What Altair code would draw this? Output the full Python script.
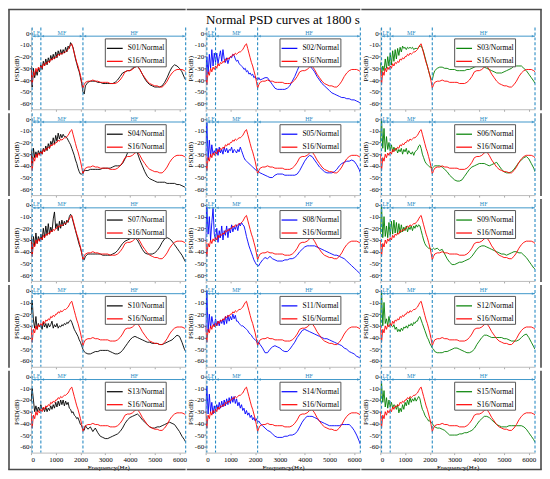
import altair as alt
import pandas as pd

FONT = "Liberation Serif"
TITLE = "Normal PSD curves at 1800 s"

# frequency grid (Hz): 50 Hz steps up to 2200, then 100 Hz steps to the end
FREQ = list(range(0, 2201, 50)) + list(range(2300, 6201, 100)) + [6250]

X_TICKS = [0, 1000, 2000, 3000, 4000, 5000, 6000]
Y_TICKS = [0, -10, -20, -30, -40, -50, -60]

BAND_EDGES = [50, 400, 2100, 6250]
BAND_NAMES = ["LF", "MF", "HF"]

# reference sensor, drawn in every panel
S16 = [-30, -44, -33, -36, -30, -33, -29, -31, -28, -30, -26, -28, -25, -26, -24, -25, -22, -23, -21, -22,
       -20, -20, -18, -19, -17, -18, -17, -16, -16, -15, -14, -12, -10, -9, -13, -17, -21, -25, -28, -32,
       -36, -41, -47, -44, -42,
       -41, -41, -40, -41, -41, -42, -42, -42, -42, -43, -43, -43, -42, -40, -37, -33, -32, -32, -31, -29,
       -28, -31, -35, -38, -41, -43, -44, -45, -45, -46, -46, -44, -41, -37, -34, -32, -31, -31, -31, -32, -33]

S01 = [-28, -46, -30, -38, -32, -36, -30, -33, -27, -31, -24, -28, -22, -27, -21, -25, -19, -23, -18, -22,
       -16, -21, -15, -19, -14, -18, -14, -17, -12, -16, -11, -13, -8, -10, -12, -17, -22, -26, -30, -33,
       -38, -43, -50, -52, -45,
       -42, -41, -41, -41, -42, -42, -43, -43, -43, -43, -43, -42, -40, -37, -34, -33, -32, -32, -30, -29,
       -28, -31, -35, -39, -42, -44, -45, -46, -46, -46, -45, -42, -38, -33, -29, -27, -28, -30, -33, -38, -40]

S02 = [-40, -20, -35, -18, -30, -14, -28, -17, -25, -17, -26, -20, -15, -24, -14, -22, -25, -21, -26, -22,
       -20, -21, -18, -19, -22, -24, -23, -26, -27, -28, -29, -31, -30, -33, -32, -35, -34, -36, -35, -38,
       -37, -39, -40, -38, -40,
       -39, -38, -38, -41, -44, -47, -48, -48, -48, -48, -47, -45, -41, -37, -32, -27, -24, -25, -27, -28,
       -30, -33, -37, -40, -43, -45, -47, -49, -51, -52, -53, -54, -55, -55, -56, -56, -57, -57, -58, -59, -60]

S03 = [-25, -36, -28, -32, -22, -30, -20, -28, -17, -27, -15, -24, -14, -22, -13, -19, -12, -16, -11, -13,
       -12, -14, -12, -13, -12, -13, -12, -14, -13, -13, -13, -12, -11, -11, -13, -16, -20, -24, -28, -32,
       -36, -39, -40, -35, -32,
       -30, -29, -29, -30, -30, -31, -31, -31, -32, -32, -32, -32, -31, -31, -30, -29, -28, -28, -28, -29,
       -30, -31, -32, -33, -34, -34, -34, -33, -32, -31, -30, -28, -28, -28, -28, -30, -32, -35, -38, -41, -43]

S04 = [-26, -40, -25, -33, -28, -32, -27, -30, -27, -30, -25, -28, -23, -27, -21, -25, -19, -22, -16, -21,
       -14, -19, -12, -17, -13, -16, -13, -15, -15, -16, -18, -20, -22, -25, -28, -31, -35, -38, -42, -45,
       -47, -47, -46, -44, -44,
       -44, -43, -43, -43, -43, -43, -42, -42, -42, -42, -41, -40, -40, -40, -38, -34, -29, -26, -25, -26,
       -29, -35, -40, -45, -49, -51, -52, -53, -54, -54, -54, -54, -55, -55, -55, -55, -56, -56, -57, -58, -59]

S05 = [-30, -3, -35, -18, -32, -22, -30, -27, -30, -25, -31, -24, -29, -26, -30, -24, -28, -25, -29, -26,
       -27, -24, -29, -26, -27, -29, -26, -28, -24, -27, -30, -33, -35, -36, -37, -38, -39, -40, -41, -42,
       -43, -44, -44, -45, -46,
       -47, -48, -49, -50, -50, -48, -47, -47, -47, -48, -48, -48, -48, -48, -47, -44, -40, -36, -33, -31,
       -32, -35, -38, -41, -43, -45, -46, -46, -46, -45, -43, -40, -38, -37, -36, -36, -35, -36, -39, -43, -46]

S06 = [-20, 0, -25, -8, -28, -15, -26, -20, -27, -22, -28, -24, -27, -25, -29, -26, -28, -25, -30, -26,
       -28, -25, -30, -27, -29, -30, -28, -31, -28, -27, -26, -23, -22, -25, -30, -33, -36, -38, -39, -40,
       -41, -41, -42, -41, -40,
       -40, -40, -41, -43, -45, -48, -50, -52, -53, -53, -52, -49, -46, -43, -41, -40, -39, -38, -38, -38,
       -39, -40, -39, -38, -37, -40, -43, -45, -46, -46, -45, -43, -40, -37, -35, -33, -32, -34, -38, -42, -45]

S07 = [-26, -42, -27, -35, -24, -33, -27, -31, -25, -30, -20, -28, -18, -26, -16, -25, -19, -23, -12, -6,
       -20, -16, -22, -14, -20, -13, -18, -14, -17, -13, -15, -10, -8, -10, -14, -18, -22, -26, -30, -34,
       -37, -41, -46, -47, -44,
       -42, -42, -42, -42, -42, -42, -43, -43, -43, -43, -42, -41, -39, -36, -33, -31, -30, -29, -28, -28,
       -30, -34, -38, -41, -42, -42, -42, -41, -39, -36, -32, -29, -28, -29, -31, -34, -37, -40, -43, -47, -49]

S08 = [-30, -2, -25, -10, -30, -15, -3, -25, -30, -20, -32, -22, -28, -18, -30, -22, -26, -18, -28, -20,
       -24, -17, -23, -19, -21, -17, -22, -16, -18, -15, -17, -18, -22, -27, -31, -35, -38, -41, -44, -47,
       -49, -51, -52, -52, -50,
       -47, -45, -46, -44, -46, -47, -48, -48, -48, -47, -47, -46, -46, -45, -43, -40, -38, -36, -35, -35,
       -35, -35, -36, -37, -38, -39, -40, -41, -42, -43, -43, -44, -45, -46, -48, -50, -52, -54, -56, -58, -59]

S09 = [-25, 0, -28, -10, -27, -18, -28, -15, -26, -14, -25, -13, -24, -15, -25, -16, -24, -17, -23, -19,
       -22, -18, -23, -19, -21, -18, -22, -18, -20, -17, -19, -17, -18, -22, -26, -30, -33, -35, -36, -37,
       -37, -38, -38, -37, -38,
       -37, -39, -38, -42, -46, -49, -51, -51, -50, -49, -49, -48, -47, -46, -44, -41, -38, -36, -35, -35,
       -36, -37, -38, -39, -40, -41, -42, -42, -43, -42, -41, -40, -40, -41, -41, -43, -45, -48, -51, -54, -55]

S10 = [-20, -8, -25, -32, -22, -33, -28, -31, -29, -33, -27, -31, -28, -32, -28, -31, -29, -26, -32, -29,
       -31, -28, -32, -30, -31, -29, -30, -28, -29, -27, -28, -26, -25, -27, -30, -33, -35, -37, -39, -42,
       -44, -47, -50, -52, -53,
       -54, -54, -53, -52, -52, -51, -51, -51, -51, -52, -53, -54, -54, -53, -51, -48, -45, -42, -40, -39,
       -40, -41, -42, -43, -44, -44, -45, -45, -45, -46, -46, -45, -44, -43, -42, -40, -38, -39, -44, -50, -52]

S11 = [-35, 0, -35, -20, -32, -22, -28, -30, -24, -30, -26, -30, -25, -28, -24, -29, -22, -28, -21, -26,
       -22, -25, -20, -24, -21, -26, -26, -28, -29, -30, -30, -31, -32, -33, -34, -36, -37, -38, -40, -41,
       -42, -43, -45, -44, -46,
       -49, -53, -53, -50, -48, -47, -48, -49, -51, -52, -52, -50, -47, -44, -40, -37, -34, -33, -34, -35,
       -36, -37, -38, -39, -40, -41, -41, -42, -43, -44, -45, -46, -47, -49, -50, -52, -53, -54, -56, -57, -58]

S12 = [-30, 0, -30, -10, -28, -24, -30, -22, -28, -30, -31, -29, -33, -31, -35, -33, -35, -32, -34, -31,
       -32, -30, -32, -29, -30, -28, -30, -27, -28, -26, -26, -23, -22, -25, -28, -31, -34, -37, -40, -42,
       -45, -47, -49, -50, -52,
       -53, -53, -53, -52, -52, -51, -50, -49, -49, -50, -51, -52, -53, -53, -52, -50, -46, -43, -40, -38,
       -38, -39, -40, -40, -40, -40, -40, -41, -41, -42, -43, -43, -43, -42, -40, -38, -37, -40, -44, -48, -50]

S13 = [-22, -10, -20, -30, -25, -30, -26, -29, -24, -28, -27, -30, -26, -30, -27, -29, -25, -28, -24, -27,
       -22, -26, -21, -25, -20, -24, -20, -25, -21, -24, -22, -27, -28, -31, -30, -33, -34, -36, -35, -38,
       -41, -42, -45, -46, -42,
       -45, -43, -47, -44, -48, -51, -52, -53, -53, -52, -51, -50, -49, -47, -44, -40, -37, -35, -34, -33,
       -32, -34, -37, -39, -41, -43, -44, -44, -43, -43, -42, -41, -40, -39, -40, -41, -44, -47, -51, -54, -56]

S14 = [-30, -8, -32, -15, -30, -22, -32, -25, -30, -24, -28, -22, -27, -21, -26, -20, -25, -19, -24, -18,
       -23, -17, -22, -17, -23, -19, -25, -22, -27, -24, -29, -27, -32, -29, -33, -31, -35, -33, -37, -35,
       -38, -36, -39, -38, -40,
       -42, -44, -46, -47, -49, -51, -52, -52, -52, -51, -51, -50, -50, -49, -47, -43, -39, -36, -34, -34,
       -34, -35, -36, -38, -39, -40, -41, -42, -42, -42, -42, -42, -41, -41, -41, -41, -43, -46, -50, -55, -58]

S15 = [-22, -5, -22, -12, -26, -18, -27, -20, -26, -22, -27, -24, -25, -28, -24, -31, -27, -30, -24, -28,
       -22, -25, -20, -24, -18, -22, -19, -21, -18, -21, -19, -17, -19, -24, -28, -30, -33, -35, -36, -38,
       -38, -39, -40, -42, -43,
       -44, -44, -45, -46, -48, -50, -50, -50, -50, -49, -49, -48, -48, -47, -46, -44, -41, -38, -36, -34,
       -34, -35, -37, -39, -41, -42, -43, -43, -43, -42, -42, -42, -42, -42, -42, -43, -45, -48, -51, -54, -56]

GRID = [
    [("S01", S01), ("S02", S02), ("S03", S03)],
    [("S04", S04), ("S05", S05), ("S06", S06)],
    [("S07", S07), ("S08", S08), ("S09", S09)],
    [("S10", S10), ("S11", S11), ("S12", S12)],
    [("S13", S13), ("S14", S14), ("S15", S15)],
]
COLUMN_COLORS = ["#000000", "#0000ff", "#008000"]
REF_COLOR = "#ff0000"
BAND_COLOR = "#2b8cc4"
FRAME_COLOR = "#4a4a4a"

W, H = 155, 82
NROWS, NCOLS = len(GRID), 3
FW = 1.6  # frame line width
LEFT_F, TOP_F, BOTTOM_F, RIGHT_F = -22, -18, H + 17, W + 6

band_df = pd.DataFrame({
    "start": BAND_EDGES[:-1],
    "end": BAND_EDGES[1:],
    "name": BAND_NAMES,
})
band_df["mid"] = (band_df["start"] + band_df["end"]) / 2
edges_df = pd.DataFrame({"f": BAND_EDGES})
one_df = pd.DataFrame({"k": [0]})


def frame_rect(x1, x2, y1, y2):
    return alt.Chart(one_df).mark_rect(color=FRAME_COLOR, strokeWidth=0).encode(
        x=alt.value(x1), x2=alt.value(x2), y=alt.value(y1), y2=alt.value(y2))


def frame_parts(r, c):
    left = LEFT_F - FW / 2 if c == 0 else -19
    right = RIGHT_F + FW / 2 if c == NCOLS - 1 else W
    top = TOP_F if r == 0 else 0
    bottom = BOTTOM_F if r == NROWS - 1 else H + 1
    parts = []
    if r == 0:
        parts.append(frame_rect(left, right, TOP_F - FW / 2, TOP_F + FW / 2))
    if r == NROWS - 1:
        parts.append(frame_rect(left, right, BOTTOM_F - FW / 2, BOTTOM_F + FW / 2))
    if c == 0:
        parts.append(frame_rect(LEFT_F - FW / 2, LEFT_F + FW / 2, top, bottom))
    if c == NCOLS - 1:
        parts.append(frame_rect(RIGHT_F - FW / 2, RIGHT_F + FW / 2, top, bottom))
    if r == 0 and c == 1:
        parts.append(alt.Chart(one_df).mark_text(font=FONT, fontSize=13, color="#000000",
                                                 baseline="middle", align="center").encode(
            x=alt.value(W / 2), y=alt.value(-7), text=alt.value(TITLE)))
    return parts


def panel(name, values, color, r, c):
    is_bottom = r == NROWS - 1
    n = len(FREQ)
    label = f"{name}/Normal"
    df = pd.DataFrame({
        "f": FREQ + FREQ,
        "v": values + S16,
        "s": [label] * n + ["S16/Normal"] * n,
    })
    xaxis = alt.Axis(values=X_TICKS, labels=is_bottom, ticks=True, tickSize=2,
                     labelExpr="'' + datum.value", labelOverlap=False,
                     title="Frequency(Hz)" if is_bottom else None,
                     domainColor="#bbbbbb", tickColor="#aaaaaa")
    yaxis = alt.Axis(values=Y_TICKS, title="PSD(dB)", tickSize=1.5, labelOverlap=False,
                     labelExpr="'' + datum.value", labelPadding=0.5, titlePadding=0.5,
                     domainColor="#cccccc", tickColor="#333333")
    xscale = alt.Scale(domain=[0, 6250], nice=False, zero=False)
    yscale = alt.Scale(domain=[-65, 5], nice=False, zero=False)

    def X(field):
        return alt.X(field, scale=xscale, axis=xaxis)

    Y = alt.Y("v:Q", scale=yscale, axis=yaxis)
    yband = alt.Y(datum=-2.5, scale=yscale, axis=yaxis)

    lines = alt.Chart(df).mark_line(strokeWidth=0.9, clip=True).encode(
        x=X("f:Q"), y=Y,
        color=alt.Color("s:N",
                        scale=alt.Scale(domain=[label, "S16/Normal"], range=[color, REF_COLOR]),
                        legend=alt.Legend(title=None, orient="none", legendX=74, legendY=11,
                                          symbolType="stroke", symbolSize=250, symbolStrokeWidth=1.2,
                                          labelFont=FONT, labelFontSize=7.5, labelColor="#000000",
                                          strokeColor="#555555", fillColor="#ffffff",
                                          padding=1, rowPadding=-1, labelOffset=4)),
    )
    vlines = alt.Chart(edges_df).mark_rule(color=BAND_COLOR, strokeDash=[3, 2], strokeWidth=1.1).encode(
        x=X("f:Q"))
    hline = alt.Chart(band_df).mark_rule(color=BAND_COLOR, strokeWidth=0.9).encode(
        x=X("start:Q"), x2="end:Q", y=yband)
    arrows_l = alt.Chart(band_df).mark_point(shape="triangle-left", filled=True, size=8,
                                             color=BAND_COLOR, xOffset=2).encode(
        x=X("start:Q"), y=yband)
    arrows_r = alt.Chart(band_df).mark_point(shape="triangle-right", filled=True, size=8,
                                             color=BAND_COLOR, xOffset=-2).encode(
        x=X("end:Q"), y=yband)
    texts = alt.Chart(band_df).mark_text(font=FONT, fontSize=6, color=BAND_COLOR,
                                         baseline="bottom", dy=-0.5).encode(
        x=X("mid:Q"), y=yband, text="name:N")
    layers = [lines, vlines, hline, arrows_l, arrows_r, texts] + frame_parts(r, c)
    return alt.layer(*layers).properties(width=W, height=H)


rows = []
for r, row in enumerate(GRID):
    charts = [panel(nm, vals, COLUMN_COLORS[c], r, c) for c, (nm, vals) in enumerate(row)]
    rows.append(alt.hconcat(*charts, spacing=0).resolve_scale(color="independent")
                .resolve_legend(color="independent"))

chart = alt.vconcat(*rows, spacing=0).resolve_scale(color="independent").resolve_legend(
    color="independent").properties(
    padding={"left": 0, "top": 0, "right": 0, "bottom": 0},
).configure_view(strokeWidth=0).configure_axis(
    labelFont=FONT, titleFont=FONT, labelFontSize=7, titleFontSize=7, titleFontWeight="normal",
    grid=False, labelPadding=1, titlePadding=1, labelColor="#000000", titleColor="#000000",
    labelOverlap=False,
)

chart.save("out.html", embed_options={"renderer": "svg", "actions": False})
